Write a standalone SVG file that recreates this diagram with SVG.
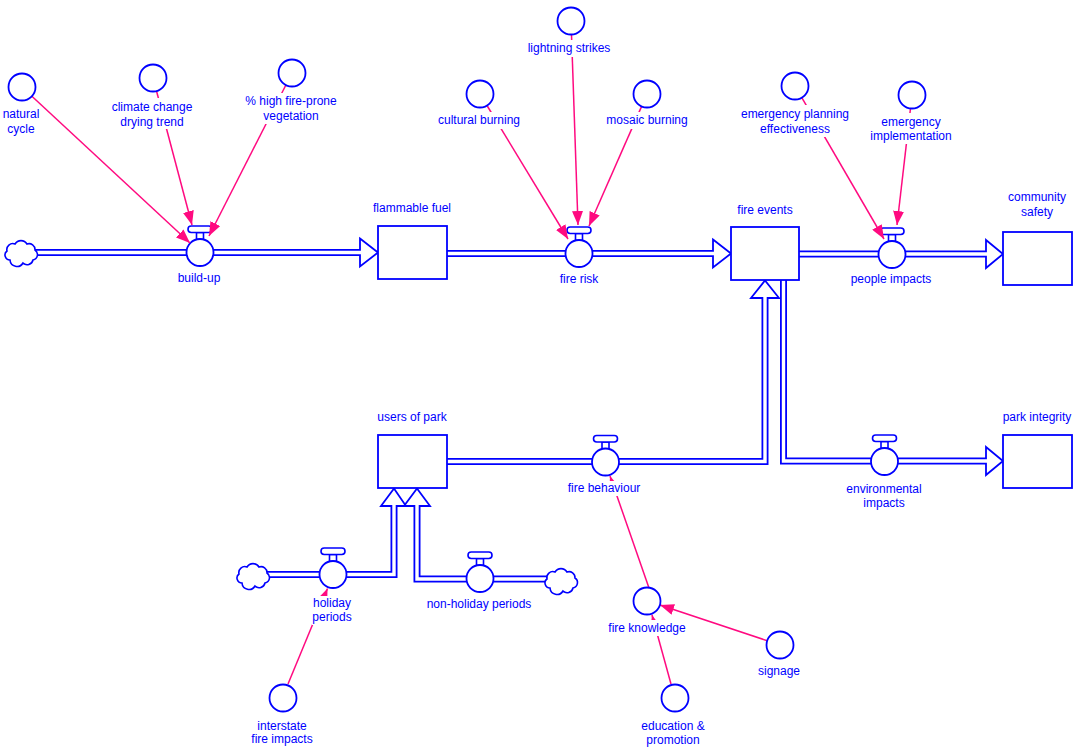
<svg xmlns="http://www.w3.org/2000/svg" xmlns:xlink="http://www.w3.org/1999/xlink" width="1080" height="752" viewBox="0 0 1080 752">
<style>
text{font-family:"Liberation Sans",Arial,sans-serif;font-size:12px;fill:#0000ff;text-anchor:middle}
.po{fill:none;stroke:#0000ff;stroke-width:7;stroke-linejoin:miter}
.pi{fill:none;stroke:#fff;stroke-width:3.4;stroke-linejoin:miter}
.ah{fill:#fff;stroke:#0000ff;stroke-width:1.8;stroke-linejoin:miter}
.ahn{fill:none;stroke:#0000ff;stroke-width:1.8;stroke-linejoin:miter}
.stock{fill:#fff;stroke:#0000ff;stroke-width:1.8}
.aux{fill:#fff;stroke:#0000ff;stroke-width:1.8}
.cl{fill:#fff;stroke:#0000ff;stroke-width:1.6}
.lb{fill:#fff}
.cn{fill:none;stroke:#ff0a80;stroke-width:1.5;marker-end:url(#arr)}
</style>
<defs>
<marker id="arr" viewBox="0 0 14 11" refX="14" refY="5.5" markerWidth="14" markerHeight="11" markerUnits="userSpaceOnUse" orient="auto">
<path d="M0,0 L14,5.5 L0,11 z" fill="#ff0a80"/>
</marker>
<symbol id="valve" overflow="visible">
<rect x="-3.5" y="-20" width="7" height="7" fill="#fff" stroke="#0000ff" stroke-width="1.6"/>
<rect x="-12" y="-26.5" width="24" height="6.5" rx="3.2" fill="#fff" stroke="#0000ff" stroke-width="1.6"/>
<circle cx="0" cy="0" r="13.5" fill="#fff" stroke="#0000ff" stroke-width="1.8"/>
</symbol>
<path id="cloud" d="M-12,8 A5,5 0 0 1 -15,-1 A6,6 0 0 1 -7,-8 A7,7 0 0 1 5,-8 A6,6 0 0 1 13,-2 A5.5,5.5 0 0 1 11,8 A6,6 0 0 1 1,11 A7,7 0 0 1 -12,8 Z"/>
</defs>
<rect width="1080" height="752" fill="#fff"/>

<g id="pipes">
<path class="po" d="M25,252.5 H360"/>
<polygon class="ah" points="360,238.5 378,252.5 360,266.5"/>
<path class="pi" d="M25,252.5 H362"/>

<path class="po" d="M447,253.5 H713"/>
<polygon class="ah" points="713,239.5 731,253.5 713,267.5"/>
<path class="pi" d="M447,253.5 H715"/>

<path class="po" d="M799,254 H986"/>
<polygon class="ah" points="986,240 1003,254 986,268"/>
<path class="pi" d="M799,254 H988"/>

<path class="po" d="M447,461.5 H765 V298"/>
<polygon class="ah" points="751,298 765,280.5 779,298"/>
<path class="pi" d="M447,461.5 H765 V296"/>

<path class="po" d="M783.5,280 V461 H986"/>
<polygon class="ah" points="986,447 1003,461 986,475"/>
<path class="pi" d="M783.5,280 V461 H988"/>

<path class="po" d="M254,574.5 H394 V506"/>
<path class="po" d="M562,579 H417 V506"/>
<polygon class="ahn" points="381,506 394,488.5 406,506"/>
<polygon class="ahn" points="404,506 417,488.5 430,506"/>
<path class="pi" d="M254,574.5 H394 V504"/>
<path class="pi" d="M562,579 H417 V504"/>
</g>

<g id="clouds">
<use href="#cloud" class="cl" x="22" y="252"/>
<use href="#cloud" class="cl" x="254" y="575"/>
<use href="#cloud" class="cl" x="562" y="580"/>
</g>

<g id="flammable-fuel"><rect class="stock" x="378" y="226" width="69" height="53"/><text x="412" y="212">flammable fuel</text></g>
<g id="fire-events"><rect class="stock" x="731" y="227" width="68" height="53"/><text x="765" y="214">fire events</text></g>
<g id="community-safety"><rect class="stock" x="1003" y="232" width="69" height="53"/><text x="1037" y="201">community</text><text x="1037" y="216">safety</text></g>
<g id="users-of-park"><rect class="stock" x="378" y="435" width="69" height="53"/><text x="412" y="421">users of park</text></g>
<g id="park-integrity"><rect class="stock" x="1003" y="435" width="69" height="53"/><text x="1037" y="421">park integrity</text></g>

<g id="build-up"><use href="#valve" x="200" y="252.5"/><text x="199" y="282">build-up</text></g>
<g id="fire-risk"><use href="#valve" x="579" y="253.5"/><text x="579" y="283">fire risk</text></g>
<g id="people-impacts"><use href="#valve" x="892" y="254.5"/><text x="891" y="283">people impacts</text></g>
<g id="fire-behaviour-valve"><use href="#valve" x="605.5" y="462"/></g>
<g id="environmental-impacts"><use href="#valve" x="884.5" y="461.5"/><text x="884" y="493">environmental</text><text x="884" y="507">impacts</text></g>
<g id="holiday-periods-valve"><use href="#valve" x="333" y="574.5"/></g>
<g id="non-holiday-periods"><use href="#valve" x="480" y="578.5"/><text x="479" y="608">non-holiday periods</text></g>

<g id="connectors">
<path class="cn" d="M31.9,96.2 L190,243"/>
<path class="cn" d="M156.5,91 L192,225"/>
<path class="cn" d="M285.9,85 L209,236"/>
<path class="cn" d="M571.5,34.5 L578,225"/>
<path class="cn" d="M487,105.5 L568,239"/>
<path class="cn" d="M641.6,106.4 L589,226"/>
<path class="cn" d="M801.8,97.7 L884,239"/>
<path class="cn" d="M910.5,108.4 L897,225"/>
<path class="cn" d="M649,588 L610,476"/>
<path class="cn" d="M767.2,640.7 L660,605"/>
<path class="cn" d="M671,684 L652,615"/>
<path class="cn" d="M288,684 L327.5,588.5"/>
</g>

<g id="natural-cycle"><circle class="aux" cx="22" cy="87" r="13.5"/><text x="21" y="118">natural</text><text x="21" y="133">cycle</text></g>
<g id="climate-change"><circle class="aux" cx="153" cy="78" r="13.5"/><rect class="lb" x="110" y="98" width="84" height="31"/><text x="152" y="111">climate change</text><text x="152" y="126">drying trend</text></g>
<g id="high-fire-prone"><circle class="aux" cx="292" cy="73" r="13.5"/><rect class="lb" x="245" y="93" width="92" height="31"/><text x="291" y="105">% high fire-prone</text><text x="291" y="120">vegetation</text></g>
<g id="lightning-strikes"><circle class="aux" cx="571" cy="21" r="13.5"/><rect class="lb" x="527" y="40" width="85" height="17"/><text x="569" y="52">lightning strikes</text></g>
<g id="cultural-burning"><circle class="aux" cx="480" cy="94" r="13.5"/><rect class="lb" x="437" y="112" width="84" height="17"/><text x="479" y="124">cultural burning</text></g>
<g id="mosaic-burning"><circle class="aux" cx="647" cy="94" r="13.5"/><rect class="lb" x="606" y="112" width="83" height="17"/><text x="647" y="124">mosaic burning</text></g>
<g id="emergency-planning"><circle class="aux" cx="795" cy="86" r="13.5"/><rect class="lb" x="740" y="105" width="110" height="32"/><text x="795" y="118">emergency planning</text><text x="795" y="133">effectiveness</text></g>
<g id="emergency-implementation"><circle class="aux" cx="912" cy="95" r="13.5"/><rect class="lb" x="870" y="113" width="82" height="31"/><text x="911" y="126">emergency</text><text x="911" y="140">implementation</text></g>
<g id="fire-behaviour-label"><rect class="lb" x="567" y="481" width="75" height="15"/><text x="604" y="492">fire behaviour</text></g>
<g id="holiday-periods-label"><rect class="lb" x="312" y="596" width="42" height="29"/><text x="332" y="607">holiday</text><text x="332" y="621">periods</text></g>
<g id="fire-knowledge"><circle class="aux" cx="647" cy="601" r="13.5"/><rect class="lb" x="608" y="620" width="79" height="16"/><text x="647" y="632">fire knowledge</text></g>
<g id="signage"><circle class="aux" cx="780" cy="645" r="13.5"/><text x="779" y="675">signage</text></g>
<g id="education-promotion"><circle class="aux" cx="675" cy="698" r="13.5"/><text x="673" y="730">education &amp;</text><text x="673" y="744">promotion</text></g>
<g id="interstate-fire-impacts"><circle class="aux" cx="283" cy="698" r="13.5"/><text x="282" y="730">interstate</text><text x="282" y="743">fire impacts</text></g>
</svg>
